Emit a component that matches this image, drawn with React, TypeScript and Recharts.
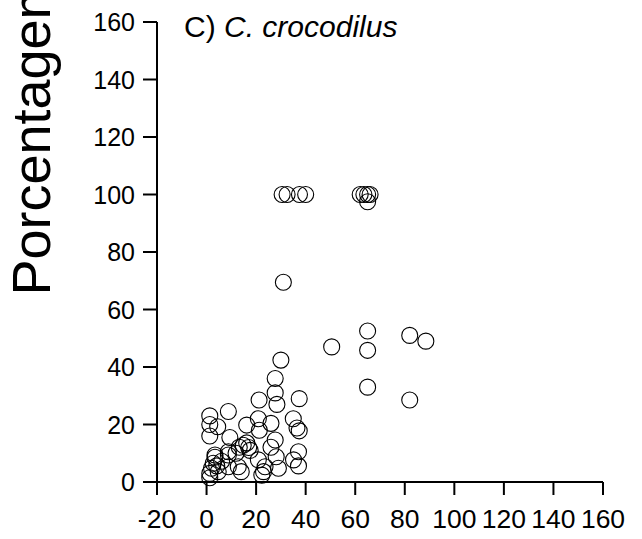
import React from "react";
import { ScatterChart, Scatter, XAxis, YAxis } from "recharts";

const xTicks = [-20, 0, 20, 40, 60, 80, 100, 120, 140, 160];
const yTicks = [0, 20, 40, 60, 80, 100, 120, 140, 160];

// tamanho (x) e porcentagem (y)
const xValues = [
  30.5, 32.5, 37.5, 40, 62, 63.5, 65, 66, 65,
  31,
  50.5, 65, 65, 65, 82, 88.5, 82,
  30, 27.7, 27.7, 28.4, 21.2, 37.4, 8.8, 1.3, 1.3, 4.5, 1.3,
  35, 36.5, 37.4, 20.9, 26, 21.3, 16.2, 9.4, 16.2, 13.2, 14.8,
  11.9, 8.8, 27.7, 26, 28.1, 20.9, 37.1, 35.1, 37.1, 29, 23.6,
  23, 22.3, 14, 8.8, 6.1, 3.4, 2.7, 2, 1.3, 1.3, 4.1, 4.7,
  12.8, 3.4, 8.8, 17.6, 17,
];
const yValues = [
  100, 100, 100, 100, 100, 100, 100, 100, 97.5,
  69.5,
  47, 52.5, 45.8, 33, 51, 49, 28.5,
  42.4, 36, 31, 27, 28.5, 29, 24.5, 23, 20, 19.2, 16,
  22, 18.8, 17.8, 22, 20.4, 18, 19.8, 15.5, 13.6, 12.1, 12.8,
  10, 10.5, 14.6, 12.1, 8.8, 7.7, 10.5, 7.7, 5.6, 4.8, 5.3,
  3.6, 2.4, 3.6, 5.3, 7.2, 8.6, 6.5, 4.8, 3, 1.5, 5.6, 3.6,
  5.3, 9.4, 9.4, 11, 12,
];

const data = xValues.map((x, i) => ({ x, y: yValues[i] }));

const font = "'Liberation Sans', Arial, sans-serif";

const OpenCircle = (props: any) => (
  <circle cx={props.cx} cy={props.cy} r={8} fill="none" stroke="#000" strokeWidth={1.1} />
);

const XTick = (props: any) => (
  <text x={props.x} y={props.y + 17} textAnchor="middle" fontSize={26.5} fill="#000" fontFamily={font}>
    {props.payload.value}
  </text>
);

const YTick = (props: any) => (
  <text x={props.x} y={props.y + 9} textAnchor="end" fontSize={25} fill="#000" fontFamily={font}>
    {props.payload.value}
  </text>
);

export default function App() {
  return (
    <div style={{ position: "absolute", left: 0, top: 0, background: "#fff" }}>
      <ScatterChart
        width={642}
        height={539}
        margin={{ top: 22, right: 39, bottom: 0, left: 0 }}
        style={{ fontFamily: font }}
      >
        <XAxis
          type="number"
          dataKey="x"
          domain={[-20, 160]}
          ticks={xTicks}
          interval={0}
          height={57}
          tickSize={13}
          tickMargin={16}
          axisLine={{ stroke: "#000", strokeWidth: 2 }}
          tickLine={{ stroke: "#000", strokeWidth: 2 }}
          tick={<XTick />}
        />
        <YAxis
          type="number"
          dataKey="y"
          domain={[0, 160]}
          ticks={yTicks}
          interval={0}
          width={157}
          tickSize={14}
          tickMargin={8}
          axisLine={{ stroke: "#000", strokeWidth: 2 }}
          tickLine={{ stroke: "#000", strokeWidth: 2 }}
          tick={<YTick />}
        />
        <Scatter data={data} shape={OpenCircle} isAnimationActive={false} />
        <text
          x={50}
          y={135}
          transform="rotate(-90 50 135)"
          textAnchor="middle"
          fontSize={54}
          fill="#000"
          fontFamily={font}
        >
          Porcentagem
        </text>
        <text x={184} y={37} fontSize={30} fill="#000" fontFamily={font}>
          C){" "}
          <tspan fontStyle="italic">C. crocodilus</tspan>
        </text>
      </ScatterChart>
    </div>
  );
}
